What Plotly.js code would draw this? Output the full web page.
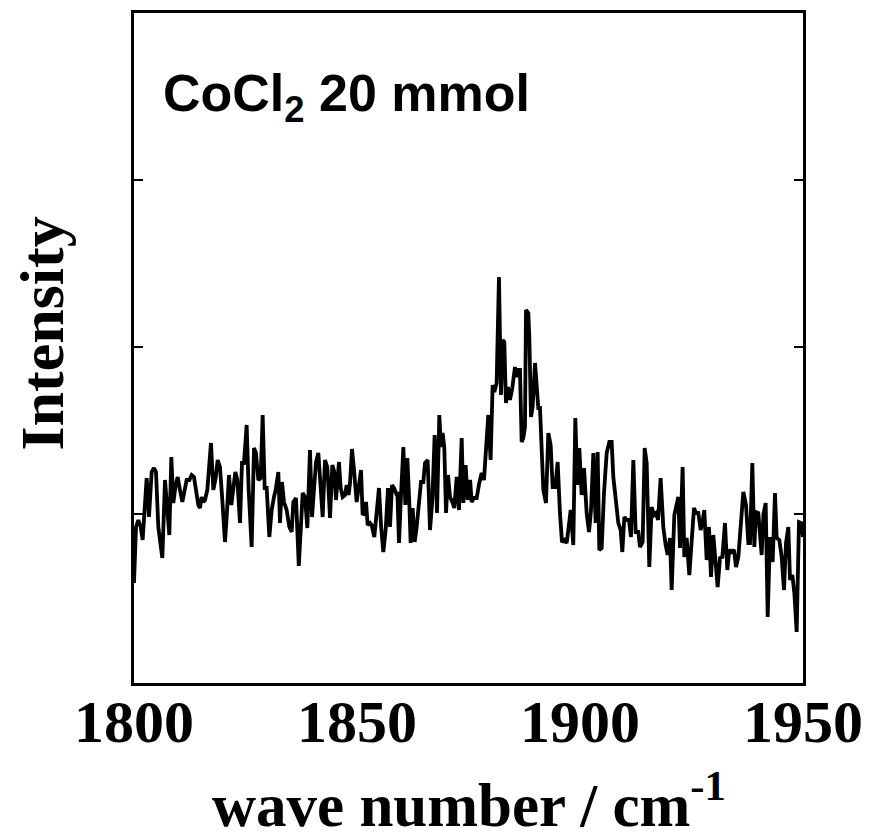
<!DOCTYPE html>
<html>
<head>
<meta charset="utf-8">
<script src="https://cdn.plot.ly/plotly-3.0.1.min.js"></script>
<style>html,body{margin:0;padding:0;background:#fff;}#chart{width:870px;height:836px;}</style>
</head>
<body>
<div id="chart"></div>
<script>
// Wavenumber (cm^-1) and intensity (arbitrary units)
const waveNumber = [
1800.0,1800.45,1800.97,1801.50,1801.94,1802.84,1803.36,1803.96,1804.48,1804.93,1805.45,1806.35,1806.95,1807.32,1807.92,1808.37,1808.82,1809.34,1809.79,1810.31,1810.84,1811.28,1811.81,1812.41,1812.93,1813.45,1814.05,1814.42,1814.80,1815.17,1815.54,1815.92,1816.44,1816.89,1817.26,1817.79,1818.31,1818.76,1819.28,1819.80,1820.40,1820.78,1821.30,1821.82,1822.27,1822.72,1823.17,1823.77,1824.21,1824.66,1825.26,1825.71,1826.38,1826.91,1827.35,1827.88,1828.40,1828.85,1829.30,1829.75,1830.34,1830.87,1831.39,1831.76,1832.36,1832.74,1833.18,1833.63,1834.23,1834.83,1835.35,1835.72,1836.32,1836.95,
1837.82,1838.34,1838.86,1839.46,1839.91,1840.36,1840.81,1841.33,1841.85,1842.30,1842.82,1843.35,1843.95,1844.47,1844.92,1845.29,1845.96,1846.34,1846.79,1847.31,1847.68,1848.13,1848.43,1848.88,1849.33,1849.92,1850.45,1850.90,1851.27,1851.64,1852.02,1852.39,1852.91,1853.29,1853.88,1854.41,1854.93,1855.38,1855.90,1856.43,1856.95,1857.40,1857.85,1858.30,1858.74,1859.04,1859.42,1859.87,1860.39,1860.84,1861.29,1861.73,1862.03,1862.48,1862.93,1863.38,1863.90,1864.35,1864.87,1865.25,1865.84,1866.37,1866.89,1867.41,1867.94,1868.46,1868.83,1869.21,1869.58,1869.96,1870.40,1870.85,1871.37,1871.82,1872.35,1872.87,1873.47,1873.84,1874.36,1874.81,1875.36,
1875.71,1876.23,1876.83,1877.42,1877.95,1878.47,1878.92,1879.44,1879.96,1880.41,1880.79,1881.31,1881.83,1882.28,1882.66,1883.03,1883.40,1883.85,1884.30,1884.82,1885.42,1885.80,1886.17,1886.54,1886.92,1887.29,1887.66,1887.89,1888.41,1888.64,1889.01,1889.38,1889.91,1890.28,1890.65,1891.03,1891.40,1891.78,1892.37,1892.90,1893.42,1893.87,1894.47,1894.99,1895.51,1895.96,1896.48,1897.01,1897.46,1897.91,1898.50,1898.95,1899.40,1899.85,1900.37,1900.90,1901.49,1902.02,1902.47,1902.99,1903.51,1903.96,1904.33,1904.86,1905.38,1905.98,1906.58,1907.10,1907.47,1908.00,1908.59,1909.11,1909.49,1909.94,1910.46,1910.98,1911.43,1911.96,1912.48,1913.08,1913.45,
1914.05,1914.50,1914.95,1915.54,1916.07,1916.59,1917.04,1917.49,1918.08,1918.68,1919.20,1919.65,1920.18,1920.55,1921.15,1921.67,1922.04,1922.42,1923.01,1923.39,1923.91,1924.51,1925.03,1925.56,1926.00,1926.53,1927.05,1927.42,1927.87,1928.40,1928.92,1929.37,1929.89,1930.41,1930.86,1931.39,1931.91,1932.51,1933.03,1933.48,1934.00,1934.53,1934.98,1935.50,1936.02,1936.62,1937.22,1937.74,1938.12,1938.64,1939.09,1939.46,1939.98,1940.36,1940.73,1941.11,1941.63,1942.08,1942.60,1943.20,1943.72,1944.10,1944.69,1945.22,1945.74,1946.19,1946.71,1947.09,1947.61,1948.06,1948.58,1949.10,1949.62,1950.0
];
const intensity = [
100,156,163,156,143,205,166,211,215,211,156,125,203,180,148,226,180,198,206,193,181,191,203,203,208,206,186,178,175,186,181,183,193,225,240,193,205,223,216,183,141,166,208,178,193,211,203,160,220,220,258,193,136,235,230,203,205,268,195,195,146,173,186,193,211,160,201,181,173,156,151,181,185,117,
190,186,155,233,166,200,221,230,193,166,223,216,165,218,211,183,221,195,186,188,198,188,200,234,213,181,198,213,168,170,181,158,160,158,146,173,195,158,131,153,195,156,198,195,190,191,140,188,236,178,225,180,140,175,141,156,183,201,201,220,223,153,183,248,170,268,236,250,235,170,208,186,181,175,206,173,245,180,218,183,203,
181,185,185,200,210,203,228,268,223,298,291,300,406,288,343,341,280,296,283,295,316,306,313,313,241,245,256,373,370,346,266,276,320,293,275,275,243,193,180,250,238,196,196,221,170,141,143,140,156,173,138,265,198,235,188,215,170,151,173,230,160,231,133,135,190,230,241,241,206,180,160,153,131,166,163,163,146,223,151,151,136,
141,235,220,116,176,168,170,163,205,156,138,128,145,93,168,181,186,135,216,126,145,108,148,175,170,170,153,160,173,123,156,106,148,116,96,125,126,160,113,133,131,133,116,126,156,191,178,140,140,220,136,171,170,146,128,168,180,66,146,121,190,145,143,126,93,140,156,103,108,90,51,161,160,146
];
const xTickVals = [1800, 1850, 1900, 1950];
const xTickText = ['1800', '1850', '1900', '1950'];
const yTickVals = [169, 336, 503];

const serif = '"Liberation Serif", "Times New Roman", serif';
const trace = {
  x: waveNumber, y: intensity, type: 'scatter', mode: 'lines',
  line: {color: '#000', width: 3.8}, hoverinfo: 'skip'
};
const layout = {
  width: 870, height: 836,
  margin: {l: 134, r: 67, t: 13, b: 153},
  paper_bgcolor: '#fff', plot_bgcolor: '#fff',
  showlegend: false,
  xaxis: {
    range: [1800, 1950], tickmode: 'array', tickvals: xTickVals, ticktext: xTickText,
    ticks: '', showgrid: false, zeroline: false,
    showline: true, mirror: true, linecolor: '#000', linewidth: 3,
    ticklabelstandoff: -16,
    tickfont: {family: serif, size: 60, color: '#000', weight: 'bold'}
  },
  yaxis: {
    range: [0, 670], tickmode: 'array', tickvals: yTickVals, showticklabels: false,
    ticks: 'inside', ticklen: 9, tickwidth: 2, tickcolor: '#000',
    showgrid: false, zeroline: false,
    showline: true, mirror: 'ticks', linecolor: '#000', linewidth: 3
  },
  annotations: [{
    xref: 'paper', yref: 'paper', x: 0.04, y: 0.875, xanchor: 'left', yanchor: 'middle',
    text: '<b>CoCl<sub>2</sub> 20 mmol</b>', showarrow: false,
    font: {family: '"Liberation Sans", Arial, sans-serif', size: 52, color: '#000'}
  }, {
    xref: 'paper', yref: 'paper', x: -0.137, y: 0.522, xanchor: 'center', yanchor: 'middle',
    text: '<b>Intensity</b>', textangle: -90, showarrow: false,
    font: {family: serif, size: 62, color: '#000'}
  }, {
    xref: 'paper', yref: 'paper', x: 0.5, y: -0.176, xanchor: 'center', yanchor: 'middle',
    text: '<b>wave number / cm<sup>-1</sup></b>', showarrow: false,
    font: {family: serif, size: 61, color: '#000'}
  }]
};
Plotly.newPlot('chart', [trace], layout, {displayModeBar: false, staticPlot: true});
</script>
</body>
</html>
